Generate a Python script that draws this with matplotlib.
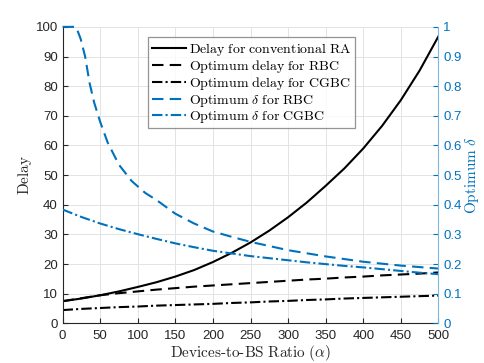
import matplotlib.pyplot as plt

plt.rcParams['mathtext.fontset'] = 'cm'
plt.rcParams['font.family'] = ['Liberation Sans', 'DejaVu Sans']

# x samples (devices-to-BS ratio)
alpha = [0, 25, 50, 75, 100, 125, 150, 175, 200, 225, 250,
         275, 300, 325, 350, 375, 400, 425, 450, 475, 500]

delay_conv = [7.5, 8.4, 9.5, 10.8, 12.3, 13.9, 15.8, 18.0, 20.7, 23.8, 27.3,
              31.3, 35.8, 40.8, 46.4, 52.3, 59.0, 66.6, 75.3, 85.3, 96.8]
delay_rbc = [7.5, 8.5, 9.5, 10.2, 10.8, 11.4, 11.9, 12.4, 12.8, 13.2, 13.6,
             14.0, 14.4, 14.8, 15.1, 15.5, 15.8, 16.2, 16.5, 16.8, 17.2]
delay_cgbc = [4.5, 4.9, 5.2, 5.5, 5.7, 6.0, 6.2, 6.4, 6.6, 6.9, 7.1,
              7.4, 7.6, 7.9, 8.1, 8.4, 8.6, 8.8, 9.0, 9.2, 9.4]
delta_cgbc = [0.384, 0.359, 0.337, 0.318, 0.301, 0.285, 0.270, 0.257, 0.245, 0.236, 0.227,
              0.220, 0.213, 0.206, 0.200, 0.194, 0.189, 0.183, 0.177, 0.171, 0.166]

# RBC optimum delta sampled more densely near the knee
alpha_rbc = [0, 18, 24, 30, 36, 42, 50, 60, 75, 92, 110, 125, 150, 175, 200,
             225, 250, 300, 350, 400, 450, 500]
delta_rbc = [1.0, 1.0, 0.96, 0.90, 0.81, 0.745, 0.68, 0.61, 0.535, 0.48, 0.44, 0.416,
             0.37, 0.337, 0.31, 0.292, 0.275, 0.247, 0.226, 0.208, 0.195, 0.185]

left_ticks = list(range(0, 101, 10))
right_ticks = [0, 0.1, 0.2, 0.3, 0.4, 0.5, 0.6, 0.7, 0.8, 0.9, 1]
right_labels = ["0", "0.1", "0.2", "0.3", "0.4", "0.5", "0.6", "0.7", "0.8", "0.9", "1"]

blue = "#0072BD"
dark = "#262626"
dashed = (0, (5.5, 3))
dashdot = (0, (5, 1.5, 1, 1.5))

fig = plt.figure(figsize=(4.85, 3.63), dpi=100)
ax = fig.add_axes([0.129, 0.109, 0.775, 0.817])
ax2 = ax.twinx()

l1, = ax.plot(alpha, delay_conv, color="black", lw=1.5, linestyle="-")
l2, = ax.plot(alpha, delay_rbc, color="black", lw=1.5, linestyle=dashed)
l3, = ax.plot(alpha, delay_cgbc, color="black", lw=1.5, linestyle=dashdot)
l4, = ax2.plot(alpha_rbc, delta_rbc, color=blue, lw=1.5, linestyle=dashed, clip_on=False)
l5, = ax2.plot(alpha, delta_cgbc, color=blue, lw=1.5, linestyle=dashdot)

ax.set_xlim(0, 500)
ax.set_ylim(0, 100)
ax2.set_ylim(0, 1)
ax.set_xticks(range(0, 501, 50))
ax.set_yticks(left_ticks)
ax2.set_yticks(right_ticks)
ax2.set_yticklabels(right_labels)

ax.grid(True, color="#e3e3e3", linewidth=0.7)
ax.set_axisbelow(True)

for a in (ax, ax2):
    a.spines["top"].set_visible(False)
ax.spines["left"].set_color(dark)
ax.spines["bottom"].set_color(dark)
ax.spines["right"].set_visible(False)
ax2.spines["left"].set_visible(False)
ax2.spines["bottom"].set_visible(False)
ax2.spines["right"].set_color("#7fb8de")

ax.tick_params(axis="both", direction="in", colors=dark, labelsize=9.5, length=3.5, width=0.8)
ax.tick_params(axis="x", pad=4.5)
ax2.tick_params(axis="y", direction="in", colors=blue, labelsize=9.5, length=3.5, width=0.8)

ax.set_xlabel(r"$\mathrm{Devices\text{-}to\text{-}BS\ Ratio\ (}\alpha\mathrm{)}$", fontsize=11, color=dark, labelpad=1)
ax.set_ylabel(r"$\mathrm{Delay}$", fontsize=11, color=dark, labelpad=1)
ax2.set_ylabel(r"$\mathrm{Optimum}\ \delta$", fontsize=11, color=blue, labelpad=1)

labels = [r"$\mathrm{Delay\ for\ conventional\ RA}$",
          r"$\mathrm{Optimum\ delay\ for\ RBC}$",
          r"$\mathrm{Optimum\ delay\ for\ CGBC}$",
          r"$\mathrm{Optimum}\ \delta\ \mathrm{for\ RBC}$",
          r"$\mathrm{Optimum}\ \delta\ \mathrm{for\ CGBC}$"]
leg = ax2.legend([l1, l2, l3, l4, l5], labels, loc="upper left",
                 bbox_to_anchor=(0.228, 0.965), fontsize=10, frameon=True,
                 fancybox=False, edgecolor="#7a7a7a", handlelength=2.45,
                 handletextpad=0.2, borderpad=0.25, labelspacing=0.02,
                 borderaxespad=0.0)
leg.get_frame().set_linewidth(0.9)

fig.savefig("out.png", dpi=100)
